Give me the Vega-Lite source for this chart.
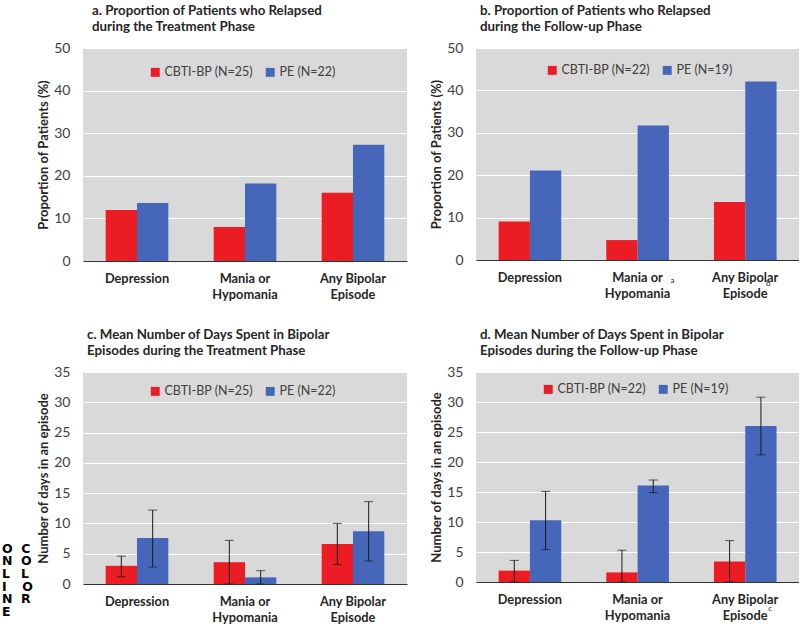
{
  "$schema": "https://vega.github.io/schema/vega-lite/v6.json",
  "padding": {"left": 1, "top": 4, "right": 0, "bottom": 0},
  "title": {
    "text": ["O\u00a0\u00a0C", "N\u00a0\u00a0O", "L\u00a0\u00a0\u2009L", "I\u00a0\u00a0\u00a0\u2009O", "N\u00a0\u00a0R", "E"],
    "orient": "left", "anchor": "start", "angle": 0, "align": "left", "baseline": "bottom",
    "font": "DejaVu Sans", "fontSize": 12.5, "fontWeight": "bold", "color": "#000000",
    "lineHeight": 12.6, "offset": 0, "dx": -5, "dy": -68, "frame": "bounds"
  },
  "datasets": {
    "bars": [
      {"panel": "a", "category": "Depression", "group": "CBTI-BP", "value": 12.0},
      {"panel": "a", "category": "Depression", "group": "PE", "value": 13.6},
      {"panel": "a", "category": "Mania or Hypomania", "group": "CBTI-BP", "value": 8.0},
      {"panel": "a", "category": "Mania or Hypomania", "group": "PE", "value": 18.2},
      {"panel": "a", "category": "Any Bipolar Episode", "group": "CBTI-BP", "value": 16.0},
      {"panel": "a", "category": "Any Bipolar Episode", "group": "PE", "value": 27.3},
      {"panel": "b", "category": "Depression", "group": "CBTI-BP", "value": 9.1},
      {"panel": "b", "category": "Depression", "group": "PE", "value": 21.1},
      {"panel": "b", "category": "Mania or Hypomania", "group": "CBTI-BP", "value": 4.7},
      {"panel": "b", "category": "Mania or Hypomania", "group": "PE", "value": 31.7},
      {"panel": "b", "category": "Any Bipolar Episode", "group": "CBTI-BP", "value": 13.7},
      {"panel": "b", "category": "Any Bipolar Episode", "group": "PE", "value": 42.1},
      {"panel": "c", "category": "Depression", "group": "CBTI-BP", "value": 3.0, "lo": 1.2, "hi": 4.6},
      {"panel": "c", "category": "Depression", "group": "PE", "value": 7.6, "lo": 2.8, "hi": 12.2},
      {"panel": "c", "category": "Mania or Hypomania", "group": "CBTI-BP", "value": 3.6, "lo": 0, "hi": 7.2},
      {"panel": "c", "category": "Mania or Hypomania", "group": "PE", "value": 1.1, "lo": 0, "hi": 2.2},
      {"panel": "c", "category": "Any Bipolar Episode", "group": "CBTI-BP", "value": 6.6, "lo": 3.2, "hi": 10.0},
      {"panel": "c", "category": "Any Bipolar Episode", "group": "PE", "value": 8.7, "lo": 3.8, "hi": 13.6},
      {"panel": "d", "category": "Depression", "group": "CBTI-BP", "value": 1.9, "lo": 0, "hi": 3.6},
      {"panel": "d", "category": "Depression", "group": "PE", "value": 10.3, "lo": 5.4, "hi": 15.1},
      {"panel": "d", "category": "Mania or Hypomania", "group": "CBTI-BP", "value": 1.6, "lo": 0, "hi": 5.3},
      {"panel": "d", "category": "Mania or Hypomania", "group": "PE", "value": 16.1, "lo": 14.9, "hi": 17.0},
      {"panel": "d", "category": "Any Bipolar Episode", "group": "CBTI-BP", "value": 3.4, "lo": 0, "hi": 6.9},
      {"panel": "d", "category": "Any Bipolar Episode", "group": "PE", "value": 26.0, "lo": 21.2, "hi": 30.8}
    ],
    "notes": [
      {"panel": "b", "category": "Mania or Hypomania", "note": "a"},
      {"panel": "b", "category": "Any Bipolar Episode", "note": "b"},
      {"panel": "d", "category": "Any Bipolar Episode", "note": "c"}
    ]
  },
  "columns": 2,
  "spacing": {"row": 27, "column": 23},
  "concat": [
    {
      "title": {"text": ["a. Proportion of Patients who Relapsed", "during the Treatment Phase"], "dx": 9},
      "width": 324, "height": 213,
      "layer": [
        {
          "data": {"name": "bars"},
          "transform": [{"filter": "datum.panel == 'a'"}],
          "mark": {"type": "bar"},
          "encoding": {
            "x": {"field": "category", "type": "nominal", "scale": {"domain": ["Depression", "Mania or Hypomania", "Any Bipolar Episode"], "paddingInner": 0.42, "paddingOuter": 0.21},
                  "axis": {"labelExpr": "datum.label == 'Mania or Hypomania' ? ['Mania or', 'Hypomania'] : datum.label == 'Any Bipolar Episode' ? ['Any Bipolar', 'Episode'] : datum.label"}},
            "xOffset": {"field": "group", "type": "nominal", "scale": {"domain": ["CBTI-BP", "PE"], "paddingInner": 0, "paddingOuter": 0}},
            "y": {"field": "value", "type": "quantitative", "scale": {"domain": [0, 50]}, "axis": {"title": "Proportion of Patients (%)", "values": [0, 10, 20, 30, 40, 50]}},
            "color": {"field": "group", "type": "nominal", "scale": {"domain": ["CBTI-BP", "PE"], "range": ["#ec1c24", "#4667b9"]},
                      "legend": {"title": null, "labelExpr": "datum.label == 'PE' ? 'PE (N=22)' : 'CBTI-BP (N=25)'", "legendX": 66, "legendY": 18}}
          }
        }
      ]
    },
    {
      "title": {"text": ["b. Proportion of Patients who Relapsed", "during the Follow-up Phase"], "dx": 4},
      "width": 323, "height": 212,
      "layer": [
        {
          "data": {"name": "bars"},
          "transform": [{"filter": "datum.panel == 'b'"}],
          "mark": {"type": "bar"},
          "encoding": {
            "x": {"field": "category", "type": "nominal", "scale": {"domain": ["Depression", "Mania or Hypomania", "Any Bipolar Episode"], "paddingInner": 0.42, "paddingOuter": 0.21},
                  "axis": {"labelExpr": "datum.label == 'Mania or Hypomania' ? ['Mania or', 'Hypomania'] : datum.label == 'Any Bipolar Episode' ? ['Any Bipolar', 'Episode'] : datum.label"}},
            "xOffset": {"field": "group", "type": "nominal", "scale": {"domain": ["CBTI-BP", "PE"], "paddingInner": 0, "paddingOuter": 0}},
            "y": {"field": "value", "type": "quantitative", "scale": {"domain": [0, 50]}, "axis": {"title": "Proportion of Patients (%)", "values": [0, 10, 20, 30, 40, 50]}},
            "color": {"field": "group", "type": "nominal", "scale": {"domain": ["CBTI-BP", "PE"], "range": ["#ec1c24", "#4667b9"]},
                      "legend": {"title": null, "labelExpr": "datum.label == 'PE' ? 'PE (N=19)' : 'CBTI-BP (N=22)'", "legendX": 70, "legendY": 16}}
          }
        },
        {
          "data": {"name": "notes"},
          "transform": [{"filter": "datum.panel == 'b' && datum.note == 'a'"}],
          "mark": {"type": "text", "dx": 35, "dy": 21, "baseline": "middle", "fontSize": 8, "font": "Lato", "color": "#262626"},
          "encoding": {
            "x": {"field": "category", "type": "nominal"},
            "y": {"datum": 0, "type": "quantitative", "axis": {"title": "Proportion of Patients (%)", "values": [0, 10, 20, 30, 40, 50]}},
            "text": {"field": "note"}
          }
        },
        {
          "data": {"name": "notes"},
          "transform": [{"filter": "datum.panel == 'b' && datum.note == 'b'"}],
          "mark": {"type": "text", "dx": 23, "dy": 24, "baseline": "middle", "fontSize": 8, "font": "Lato", "color": "#262626"},
          "encoding": {
            "x": {"field": "category", "type": "nominal"},
            "y": {"datum": 0, "type": "quantitative", "axis": {"title": "Proportion of Patients (%)", "values": [0, 10, 20, 30, 40, 50]}},
            "text": {"field": "note"}
          }
        }
      ]
    },
    {
      "title": {"text": ["c. Mean Number of Days Spent in Bipolar", "Episodes during the Treatment Phase"], "dx": 4},
      "width": 324, "height": 212,
      "data": {"name": "bars"},
      "transform": [{"filter": "datum.panel == 'c'"}],
      "encoding": {
        "x": {"field": "category", "type": "nominal", "scale": {"domain": ["Depression", "Mania or Hypomania", "Any Bipolar Episode"], "paddingInner": 0.42, "paddingOuter": 0.21},
              "axis": {"labelExpr": "datum.label == 'Mania or Hypomania' ? ['Mania or', 'Hypomania'] : datum.label == 'Any Bipolar Episode' ? ['Any Bipolar', 'Episode'] : datum.label"}},
        "xOffset": {"field": "group", "type": "nominal", "scale": {"domain": ["CBTI-BP", "PE"], "paddingInner": 0, "paddingOuter": 0}}
      },
      "layer": [
        {
          "mark": {"type": "bar"},
          "encoding": {
            "y": {"field": "value", "type": "quantitative", "scale": {"domain": [0, 35]}, "axis": {"title": "Number of days in an episode", "values": [0, 5, 10, 15, 20, 25, 30, 35]}},
            "color": {"field": "group", "type": "nominal", "scale": {"domain": ["CBTI-BP", "PE"], "range": ["#ec1c24", "#4667b9"]},
                      "legend": {"title": null, "labelExpr": "datum.label == 'PE' ? 'PE (N=22)' : 'CBTI-BP (N=25)'", "legendX": 66, "legendY": 13}}
          }
        },
        {
          "mark": {"type": "rule", "color": "#1a1a1a", "strokeWidth": 1},
          "encoding": {"y": {"field": "lo", "type": "quantitative", "axis": {"title": "Number of days in an episode", "values": [0, 5, 10, 15, 20, 25, 30, 35]}}, "y2": {"field": "hi"}}
        },
        {
          "mark": {"type": "tick", "color": "#1a1a1a", "thickness": 1, "size": 9},
          "encoding": {"y": {"field": "lo", "type": "quantitative", "axis": {"title": "Number of days in an episode", "values": [0, 5, 10, 15, 20, 25, 30, 35]}}}
        },
        {
          "mark": {"type": "tick", "color": "#1a1a1a", "thickness": 1, "size": 9},
          "encoding": {"y": {"field": "hi", "type": "quantitative", "axis": {"title": "Number of days in an episode", "values": [0, 5, 10, 15, 20, 25, 30, 35]}}}
        }
      ]
    },
    {
      "title": {"text": ["d. Mean Number of Days Spent in Bipolar", "Episodes during the Follow-up Phase"], "dx": 4},
      "width": 323, "height": 210,
      "layer": [
        {
          "data": {"name": "bars"},
          "transform": [{"filter": "datum.panel == 'd'"}],
          "encoding": {
            "x": {"field": "category", "type": "nominal", "scale": {"domain": ["Depression", "Mania or Hypomania", "Any Bipolar Episode"], "paddingInner": 0.42, "paddingOuter": 0.21},
                  "axis": {"labelExpr": "datum.label == 'Mania or Hypomania' ? ['Mania or', 'Hypomania'] : datum.label == 'Any Bipolar Episode' ? ['Any Bipolar', 'Episode'] : datum.label"}},
            "xOffset": {"field": "group", "type": "nominal", "scale": {"domain": ["CBTI-BP", "PE"], "paddingInner": 0, "paddingOuter": 0}}
          },
          "layer": [
            {
              "mark": {"type": "bar"},
              "encoding": {
                "y": {"field": "value", "type": "quantitative", "scale": {"domain": [0, 35]}, "axis": {"title": "Number of days in an episode", "values": [0, 5, 10, 15, 20, 25, 30, 35]}},
                "color": {"field": "group", "type": "nominal", "scale": {"domain": ["CBTI-BP", "PE"], "range": ["#ec1c24", "#4667b9"]},
                          "legend": {"title": null, "labelExpr": "datum.label == 'PE' ? 'PE (N=19)' : 'CBTI-BP (N=22)'", "legendX": 66, "legendY": 11}}
              }
            },
            {
              "mark": {"type": "rule", "color": "#1a1a1a", "strokeWidth": 1},
              "encoding": {"y": {"field": "lo", "type": "quantitative", "axis": {"title": "Number of days in an episode", "values": [0, 5, 10, 15, 20, 25, 30, 35]}}, "y2": {"field": "hi"}}
            },
            {
              "mark": {"type": "tick", "color": "#1a1a1a", "thickness": 1, "size": 9},
              "encoding": {"y": {"field": "lo", "type": "quantitative", "axis": {"title": "Number of days in an episode", "values": [0, 5, 10, 15, 20, 25, 30, 35]}}}
            },
            {
              "mark": {"type": "tick", "color": "#1a1a1a", "thickness": 1, "size": 9},
              "encoding": {"y": {"field": "hi", "type": "quantitative", "axis": {"title": "Number of days in an episode", "values": [0, 5, 10, 15, 20, 25, 30, 35]}}}
            }
          ]
        },
        {
          "data": {"name": "notes"},
          "transform": [{"filter": "datum.panel == 'd'"}],
          "mark": {"type": "text", "dx": 25, "dy": 27, "baseline": "middle", "fontSize": 8, "font": "Lato", "color": "#262626"},
          "encoding": {
            "x": {"field": "category", "type": "nominal"},
            "y": {"datum": 0, "type": "quantitative", "axis": {"title": "Number of days in an episode", "values": [0, 5, 10, 15, 20, 25, 30, 35]}},
            "text": {"field": "note"}
          }
        }
      ]
    }
  ],
  "resolve": {"scale": {"color": "independent"}, "legend": {"color": "independent"}},
  "config": {
    "view": {"fill": "#d9d9d9", "stroke": null},
    "title": {"font": "Lato", "fontSize": 13.3, "fontWeight": "bold", "color": "#262626", "anchor": "start", "frame": "group", "offset": 8, "lineHeight": 15.5},
    "axis": {"labelFont": "Lato", "titleFont": "Lato", "ticks": false},
    "axisX": {"title": null, "labelAngle": 0, "labelFontSize": 12.8, "labelFontWeight": "bold", "labelColor": "#262626", "labelPadding": 11, "labelLineHeight": 16, "domainColor": "#333333", "domainWidth": 1.2, "grid": false, "zindex": 1},
    "axisY": {"labelFontSize": 14, "labelColor": "#404040", "labelPadding": 13, "domain": false, "grid": true, "gridColor": "#ffffff", "gridWidth": 1.2, "titleFontSize": 13, "titleFontWeight": "bold", "titleColor": "#262626", "titlePadding": 3},
    "legend": {"orient": "none", "direction": "horizontal", "symbolType": "square", "symbolSize": 80, "symbolStrokeWidth": 0, "labelFont": "Lato", "labelFontSize": 12.5, "labelColor": "#404040", "columnPadding": 10, "labelOffset": 3},
    "bar": {"stroke": null}
  }
}
